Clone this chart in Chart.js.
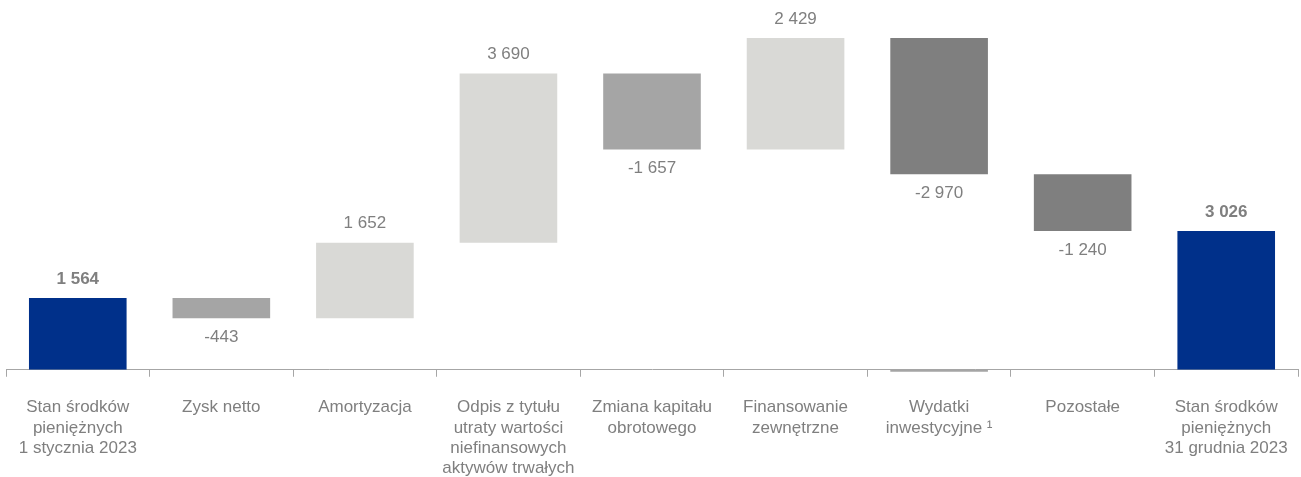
<!DOCTYPE html>
<html>
<head>
<meta charset="utf-8">
<script src="https://cdn.jsdelivr.net/npm/chart.js@4/dist/chart.umd.min.js"></script>
<style>
  body { margin: 0; background: #fff; }
  #wrap { width: 1301px; height: 477px; }
</style>
</head>
<body>
<div id="wrap"><canvas id="myChart"></canvas></div>
<script>
// cash flow bridge, mln PLN
var categories = [
  ['Stan środków', 'pieniężnych', '1 stycznia 2023'],
  ['Zysk netto'],
  ['Amortyzacja'],
  ['Odpis z tytułu', 'utraty wartości', 'niefinansowych', 'aktywów trwałych'],
  ['Zmiana kapitału', 'obrotowego'],
  ['Finansowanie', 'zewnętrzne'],
  ['Wydatki', 'inwestycyjne ¹'],
  ['Pozostałe'],
  ['Stan środków', 'pieniężnych', '31 grudnia 2023']
];
var changes = [1564, -443, 1652, 3690, -1657, 2429, -2970, -1240, 3026];
var isTotal = [true, false, false, false, false, false, false, false, true];
// small capex stub just below the axis
var capexStub = [null, null, null, null, null, null, -45, null, null];

var barColors = ['#00308a', '#a5a5a5', '#d9d9d6', '#d9d9d6', '#a5a5a5', '#d9d9d6', '#7f7f7f', '#7f7f7f', '#00308a'];
var textGray = '#7f7f7f';
var fontFamily = "'Liberation Sans', Arial, sans-serif";

// running totals -> floating bars
var ranges = [];
var running = 0;
for (var i = 0; i < changes.length; i++) {
  if (isTotal[i]) {
    ranges.push([0, changes[i]]);
    running = changes[i];
  } else {
    ranges.push([running, running + changes[i]]);
    running += changes[i];
  }
}
var stubRanges = capexStub.map(function (v) { return v === null ? null : [v, 0]; });

function fmt(v) {
  var s = Math.abs(v).toString().replace(/\B(?=(\d{3})+(?!\d))/g, ' ');
  return (v < 0 ? '-' : '') + s;
}

var valueLabels = {
  id: 'valueLabels',
  afterDatasetsDraw: function (chart) {
    var ctx = chart.ctx;
    var meta = chart.getDatasetMeta(0);
    ctx.save();
    ctx.textAlign = 'center';
    ctx.textBaseline = 'middle';
    ctx.fillStyle = textGray;
    meta.data.forEach(function (bar, i) {
      var v = changes[i];
      var top = Math.min(bar.y, bar.base);
      var bottom = Math.max(bar.y, bar.base);
      ctx.font = (isTotal[i] ? 'bold ' : '') + '17px ' + fontFamily;
      if (v >= 0) {
        ctx.fillText(fmt(v), bar.x, top - 19);
      } else {
        ctx.fillText(fmt(v), bar.x, bottom + 19);
      }
    });
    ctx.restore();
  }
};

var ctx = document.getElementById('myChart');
var myChart = new Chart(ctx, {
  type: 'bar',
  data: {
    labels: categories,
    datasets: [{
      data: ranges,
      backgroundColor: barColors,
      borderWidth: 0,
      barPercentage: 0.68,
      categoryPercentage: 1
    }, {
      data: stubRanges,
      backgroundColor: '#a5a5a5',
      borderWidth: 0,
      barPercentage: 0.68,
      categoryPercentage: 1,
      clip: false
    }]
  },
  options: {
    responsive: true,
    maintainAspectRatio: false,
    animation: false,
    grouped: false,
    layout: { padding: { left: 6, right: 3, top: 3, bottom: -22 } },
    plugins: {
      legend: { display: false },
      tooltip: { enabled: false }
    },
    scales: {
      x: {
        offset: true,
        // labels fit inside their categories, no extra side padding needed
        afterFit: function (scale) {
          scale.paddingLeft = 0;
          scale.paddingRight = 0;
        },
        grid: {
          offset: true,
          drawOnChartArea: false,
          drawTicks: true,
          tickLength: 7,
          color: '#a6a6a6'
        },
        border: { display: true, color: '#a6a6a6', width: 1 },
        ticks: {
          color: textGray,
          padding: 21,
          maxRotation: 0,
          autoSkip: false,
          font: { family: fontFamily, size: 17, lineHeight: 1.18 }
        }
      },
      y: {
        display: false,
        min: 0,
        max: 8000
      }
    }
  },
  plugins: [valueLabels]
});
</script>
</body>
</html>
